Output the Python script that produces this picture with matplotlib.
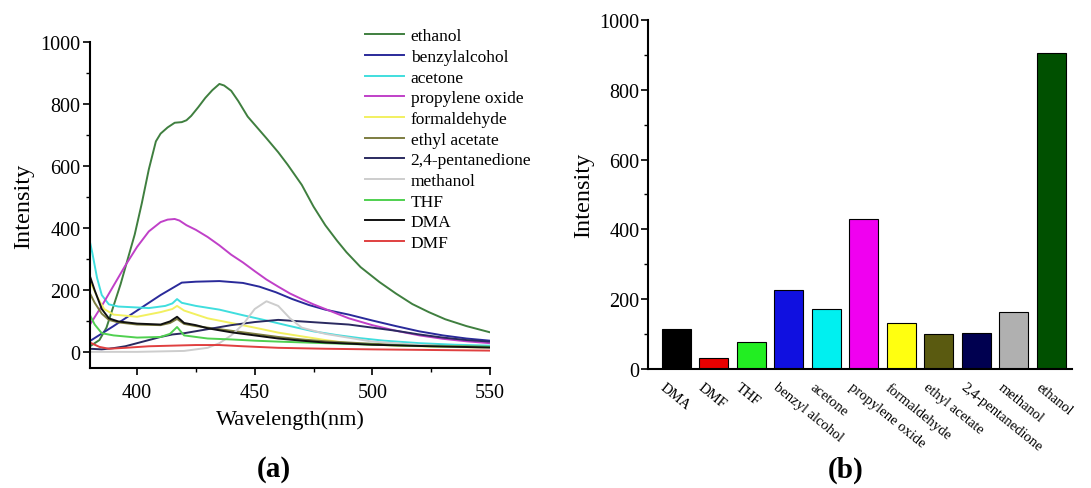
import matplotlib
matplotlib.use("Agg")
import matplotlib.pyplot as plt
from matplotlib.ticker import MultipleLocator
from matplotlib.transforms import ScaledTranslation

plt.rcParams['font.family'] = ['Liberation Serif', 'DejaVu Serif']

# ---- panel (a): emission spectra ----
ethanol_wl = [380, 384, 387, 390, 393, 396, 399, 402, 405, 408, 410, 413, 416, 419, 421, 423, 426, 429,
              432, 435, 437, 440, 443, 447, 451, 455, 460, 464, 470, 475, 480, 485, 489, 495, 503, 510,
              517, 524, 531, 540, 550]
ethanol_int = [20, 40, 80, 150, 220, 300, 380, 480, 590, 680, 705, 725, 740, 742, 748, 762, 790, 820,
               845, 865, 860, 843, 810, 760, 725, 690, 645, 605, 540, 470, 410, 360, 323, 275, 227, 190,
               156, 130, 107, 85, 65]

benzyl_wl = [380, 390, 400, 410, 419, 425, 435, 445, 452, 459, 466, 473, 480, 490, 500, 510, 520, 530, 540, 550]
benzyl_int = [37, 85, 135, 185, 225, 228, 230, 224, 212, 194, 172, 153, 138, 122, 103, 85, 68, 55, 45, 38]

acetone_wl = [380, 381, 383, 385, 388, 392, 400, 405, 412, 415, 417, 419, 425, 435, 445, 455, 465, 475,
              485, 495, 505, 520, 535, 550]
acetone_int = [355, 320, 240, 185, 155, 148, 145, 143, 150, 158, 172, 160, 150, 138, 120, 103, 85, 68,
               56, 46, 38, 30, 25, 22]

propox_wl = [380, 385, 390, 395, 400, 405, 410, 413, 416, 418, 421, 425, 430, 435, 440, 445, 450, 455,
             460, 465, 470, 475, 480, 490, 500, 510, 520, 530, 540, 550]
propox_int = [90, 150, 215, 280, 340, 390, 420, 428, 430, 425, 410, 395, 372, 345, 315, 290, 262, 235,
              212, 190, 172, 155, 140, 110, 88, 70, 55, 44, 36, 30]

formal_wl = [380, 383, 386, 390, 400, 410, 415, 417, 420, 430, 440, 450, 460, 470, 480, 490, 500, 520, 550]
formal_int = [230, 180, 140, 122, 115, 130, 140, 150, 135, 110, 95, 80, 64, 52, 40, 30, 25, 20, 15]

ethylac_wl = [380, 382, 385, 388, 392, 400, 410, 414, 417, 420, 425, 430, 440, 450, 460, 470, 480, 500, 525, 550]
ethylac_int = [190, 160, 125, 105, 97, 90, 88, 95, 108, 92, 85, 80, 70, 60, 50, 42, 36, 28, 22, 18]

pentane_wl = [380, 385, 390, 395, 400, 405, 410, 415, 420, 430, 440, 450, 460, 470, 480, 490, 500, 510, 520, 530, 540, 550]
pentane_int = [12, 10, 14, 20, 30, 40, 50, 58, 62, 75, 88, 98, 105, 100, 95, 90, 80, 70, 58, 48, 40, 35]

methanol_wl = [380, 400, 420, 430, 435, 440, 445, 450, 455, 460, 465, 470, 480, 500, 525, 550]
methanol_int = [2, 2, 5, 15, 30, 55, 90, 140, 165, 150, 110, 80, 60, 35, 22, 15]

thf_wl = [380, 382, 385, 390, 400, 410, 414, 417, 420, 430, 440, 450, 460, 480, 500, 525, 550]
thf_int = [120, 90, 62, 55, 48, 50, 60, 82, 55, 45, 42, 38, 35, 30, 25, 20, 18]

dma_wl = [380, 382, 385, 388, 392, 400, 410, 414, 417, 420, 425, 430, 440, 450, 460, 470, 480, 500, 525, 550]
dma_int = [245, 200, 140, 110, 100, 93, 90, 100, 115, 95, 88, 78, 65, 55, 45, 38, 32, 25, 20, 16]

dmf_wl = [380, 384, 388, 395, 405, 415, 425, 435, 445, 460, 480, 500, 525, 550]
dmf_int = [32, 18, 12, 15, 20, 22, 24, 24, 20, 15, 12, 10, 8, 6]

spectra = [
    ("ethanol", ethanol_wl, ethanol_int, "#3f7f3f"),
    ("benzylalcohol", benzyl_wl, benzyl_int, "#2a2a9a"),
    ("acetone", acetone_wl, acetone_int, "#40dede"),
    ("propylene oxide", propox_wl, propox_int, "#c040c8"),
    ("formaldehyde", formal_wl, formal_int, "#f2f060"),
    ("ethyl acetate", ethylac_wl, ethylac_int, "#7d7d40"),
    ("2,4-pentanedione", pentane_wl, pentane_int, "#2a2a60"),
    ("methanol", methanol_wl, methanol_int, "#cdcdcd"),
    ("THF", thf_wl, thf_int, "#50d050"),
    ("DMA", dma_wl, dma_int, "#111111"),
    ("DMF", dmf_wl, dmf_int, "#e04040"),
]

# ---- panel (b): bar intensities ----
solvents = ["DMA", "DMF", "THF", "benzyl alcohol", "acetone", "propylene oxide",
            "formaldehyde", "ethyl acetate", "2,4-pentanedione", "methanol", "ethanol"]
intensity = [114, 31, 76, 227, 172, 429, 132, 100, 102, 162, 906]
bar_colors = ["#000000", "#e80000", "#22ee22", "#1010e0", "#00f0f0", "#f000f0",
              "#ffff10", "#5a5a10", "#000050", "#b0b0b0", "#005000"]

fig = plt.figure(figsize=(10.91, 4.89), dpi=100)

ax1 = fig.add_axes([0.0825, 0.2454, 0.3666, 0.6666])
for name, wl, val, col in spectra:
    ax1.plot(wl, val, color=col, lw=1.4, label=name)
ax1.set_xlim(380, 550)
ax1.set_ylim(-50, 1000)
ax1.xaxis.set_major_locator(MultipleLocator(50))
ax1.xaxis.set_minor_locator(MultipleLocator(25))
ax1.yaxis.set_major_locator(MultipleLocator(200))
ax1.yaxis.set_minor_locator(MultipleLocator(100))
ax1.spines['top'].set_visible(False)
ax1.spines['right'].set_visible(False)
for s in ['left', 'bottom']:
    ax1.spines[s].set_linewidth(1.5)
ax1.tick_params(which='major', direction='out', length=5, width=1.2, labelsize=14.5, pad=2)
ax1.tick_params(axis='x', which='major', pad=6)
ax1.tick_params(which='minor', direction='out', length=3, width=1.0)
ax1.set_xlabel("Wavelength(nm)", fontsize=16, labelpad=5)
ax1.set_ylabel("Intensity", fontsize=17.5, labelpad=4)
ax1.legend(loc='upper left', bbox_to_anchor=(0.327, 0.958), bbox_transform=fig.transFigure,
           frameon=False, fontsize=12.5, handlelength=2.2, handletextpad=0.4,
           labelspacing=0.26, borderpad=0)

ax2 = fig.add_axes([0.594, 0.2434, 0.3886, 0.7137])
pos = list(range(len(solvents)))
ax2.bar(pos, intensity, width=0.78, color=bar_colors, edgecolor='black', linewidth=0.8)
ax2.set_xlim(-0.75, 10.55)
ax2.set_ylim(0, 1000)
ax2.yaxis.set_major_locator(MultipleLocator(200))
ax2.yaxis.set_minor_locator(MultipleLocator(100))
ax2.spines['top'].set_visible(False)
ax2.spines['right'].set_visible(False)
for s in ['left', 'bottom']:
    ax2.spines[s].set_linewidth(1.5)
ax2.tick_params(axis='y', which='major', direction='out', length=5, width=1.2, labelsize=14.5, pad=1)
ax2.tick_params(axis='y', which='minor', direction='out', length=3, width=1.0)
ax2.tick_params(axis='x', length=0, pad=8, labelsize=10.5)
ax2.set_xticks(pos)
ax2.set_xticklabels(solvents, rotation=-39, ha='left', va='top', rotation_mode='anchor')
offset = ScaledTranslation(-10 / 100, 0, fig.dpi_scale_trans)
for lab in ax2.get_xticklabels():
    lab.set_transform(lab.get_transform() + offset)
ax2.set_ylabel("Intensity", fontsize=17.5, labelpad=4)

fig.text(0.251, 0.039, "(a)", ha='center', va='center', fontsize=21, fontweight='bold')
fig.text(0.775, 0.039, "(b)", ha='center', va='center', fontsize=21, fontweight='bold')

fig.savefig("out.png", dpi=100)
